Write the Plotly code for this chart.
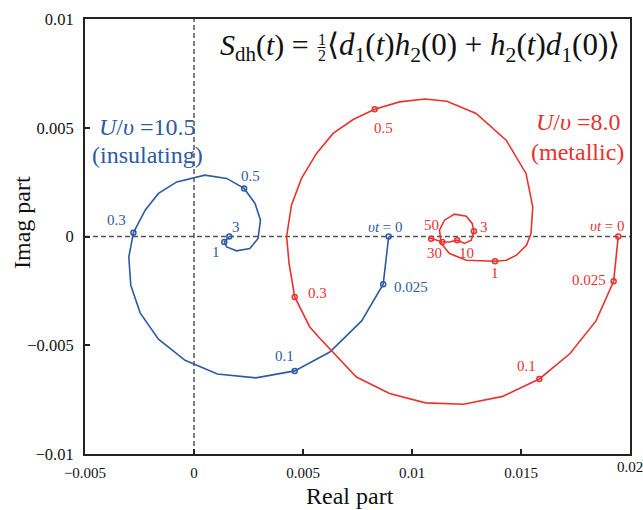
import plotly.graph_objects as go

FONT = "Liberation Serif, Times New Roman, serif"
BLUE = "#2d5ba3"
RED = "#e8322f"

# ---- U/v = 10.5 (insulating): trajectory of S_dh(t) in the complex plane
re_ins = [0.00893, 0.00868, 0.00769, 0.00623, 0.00462, 0.00284, 0.00107, -0.00041,
          -0.00163, -0.00247, -0.00290, -0.00299, -0.00278, -0.00224, -0.00163,
          -0.00079, 0.00050, 0.00150, 0.00230, 0.00280, 0.00305, 0.00294, 0.00256,
          0.00195, 0.00150, 0.00139, 0.00162]
im_ins = [0.00000, -0.00219, -0.00388, -0.00531, -0.00618, -0.00650, -0.00632, -0.00569,
          -0.00472, -0.00351, -0.00224, -0.00094, 0.00017, 0.00121, 0.00198,
          0.00251, 0.00282, 0.00267, 0.00221, 0.00152, 0.00075, -0.00009, -0.00055,
          -0.00066, -0.00048, -0.00025, 0.00000]
ins_mark_idx = [0, 1, 4, 12, 18, 25, 26]
ins_mark_time = ["0", "0.025", "0.1", "0.3", "0.5", "1", "3"]

# ---- U/v = 8.0 (metallic)
re_met = [0.01946, 0.01925, 0.01844, 0.01725, 0.01584, 0.01416, 0.01236, 0.01062,
          0.00897, 0.00745, 0.00577, 0.00531, 0.00462, 0.00436, 0.00425, 0.00447,
          0.00493, 0.00562, 0.00638, 0.00730, 0.00829, 0.00943, 0.01060, 0.01160,
          0.01294, 0.01432, 0.01523, 0.01554, 0.01546, 0.01525, 0.01479, 0.01433,
          0.01381, 0.01249, 0.01172, 0.01134, 0.01126, 0.01149, 0.01195, 0.01249,
          0.01276, 0.01284, 0.01272, 0.01241, 0.01207, 0.01172, 0.01139, 0.01088,
          0.01075]
im_met = [0.00000, -0.00206, -0.00388, -0.00538, -0.00655, -0.00735, -0.00771, -0.00765,
          -0.00722, -0.00646, -0.00468, -0.00416, -0.00278, -0.00124, 0.00000, 0.00144,
          0.00267, 0.00382, 0.00474, 0.00538, 0.00585, 0.00619, 0.00632, 0.00622,
          0.00566, 0.00443, 0.00290, 0.00136, 0.00014, -0.00040, -0.00086, -0.00109,
          -0.00114, -0.00109, -0.00078, -0.00032, 0.00029, 0.00075, 0.00103, 0.00093,
          0.00060, 0.00024, -0.00017, -0.00032, -0.00017, -0.00025, -0.00025, -0.00010,
          -0.00005]
met_mark_idx = [0, 1, 4, 12, 20, 32, 41, 44, 46, 47]
met_mark_time = ["0", "0.025", "0.1", "0.3", "0.5", "1", "3", "10", "30", "50"]

# ---- axes
x_range = [-0.005, 0.02]
y_range = [-0.01, 0.01]
x_ticks = [-0.005, 0, 0.005, 0.01, 0.015, 0.02]
x_tick_text = ["\u22120.005", "0", "0.005", "0.01", "0.015", "0.02"]
y_ticks = [-0.01, -0.005, 0, 0.005, 0.01]
y_tick_text = ["\u22120.01", "\u22120.005", "0", "0.005", "0.01"]

# label placement around each marker: (xshift, yshift, xanchor), in pixels
ins_label_pos = [(-3, 10, "center"), (9, -3, "left"), (-10, 15, "center"),
                 (-17, 13, "center"), (6, 12, "center"), (-8, -10, "center"),
                 (7, 10, "center")]
met_label_pos = [(-11, 11, "center"), (-6, 1, "right"), (-13, 13, "center"),
                 (11, 4, "left"), (9, -19, "center"), (0, -12, "center"),
                 (10, 4, "center"), (9, -13, "center"), (-8, -11, "center"),
                 (0, 14, "center")]

W, H = 643, 510
L, R, T, B = 85, 13, 19, 56
PW, PH = W - L - R, H - T - B


def px(xp):
    return (xp - L) / PW


def py(yp):
    return (H - B - yp) / PH


fig = go.Figure()

annotations = []
for re_v, im_v, idx, times, pos, col in [
    (re_ins, im_ins, ins_mark_idx, ins_mark_time, ins_label_pos, BLUE),
    (re_met, im_met, met_mark_idx, met_mark_time, met_label_pos, RED),
]:
    fig.add_trace(go.Scatter(x=re_v, y=im_v, mode="lines",
                             line=dict(color=col, width=1.6), hoverinfo="skip"))
    mx = [re_v[i] for i in idx]
    my = [im_v[i] for i in idx]
    fig.add_trace(go.Scatter(x=mx, y=my, mode="markers",
                             marker=dict(symbol="circle-open", size=5, color=col,
                                         line=dict(width=1.5, color=col))))
    for xv, yv, t, (dx, dy, xa) in zip(mx, my, times, pos):
        txt = "<i>\u03c5t</i> = 0" if t == "0" else t
        annotations.append(dict(x=xv, y=yv, xref="x", yref="y", text=txt,
                                showarrow=False, xshift=dx, yshift=dy, xanchor=xa,
                                yanchor="middle",
                                font=dict(family=FONT, size=15, color=col)))

# phase labels
for text, xp, yp, col in [
    ("<i>U</i>/<i>\u03c5</i> =10.5", 147, 127, BLUE),
    ("(insulating)", 147, 155, BLUE),
    ("<i>U</i>/<i>\u03c5</i> =8.0", 578, 122, RED),
    ("(metallic)", 577, 152, RED),
]:
    annotations.append(dict(x=px(xp), y=py(yp), xref="paper", yref="paper", text=text,
                            showarrow=False, xanchor="center", yanchor="middle",
                            font=dict(family=FONT, size=24, color=col)))

# formula in the upper part of the frame
annotations += [
    dict(x=px(311), y=py(47), xref="paper", yref="paper", xanchor="right",
         yanchor="middle", showarrow=False,
         text="<i>S</i><sub>dh</sub>(<i>t</i>) =",
         font=dict(family=FONT, size=30, color="#111")),
    dict(x=px(321.5), y=py(39), xref="paper", yref="paper", xanchor="center",
         yanchor="middle", showarrow=False, text="1",
         font=dict(family=FONT, size=16, color="#111")),
    dict(x=px(321.5), y=py(55), xref="paper", yref="paper", xanchor="center",
         yanchor="middle", showarrow=False, text="2",
         font=dict(family=FONT, size=16, color="#111")),
    dict(x=px(325), y=py(47), xref="paper", yref="paper", xanchor="left",
         yanchor="middle", showarrow=False,
         text="\u27e8<i>d</i><sub>1</sub>(<i>t</i>)<i>h</i><sub>2</sub>(0) + "
              "<i>h</i><sub>2</sub>(<i>t</i>)<i>d</i><sub>1</sub>(0)\u27e9",
         font=dict(family=FONT, size=31, color="#111")),
    # axis titles
    dict(x=px(350), y=py(496), xref="paper", yref="paper", xanchor="center",
         yanchor="middle", showarrow=False, text="Real part",
         font=dict(family=FONT, size=24, color="#111")),
    dict(x=px(22), y=py(223), xref="paper", yref="paper", xanchor="center",
         yanchor="middle", showarrow=False, text="Imag part", textangle=-90,
         font=dict(family=FONT, size=24, color="#111")),
    # last x tick label sits on the right frame edge and runs past the page
    dict(x=x_ticks[-1], y=py(467), xref="x", yref="paper", xanchor="center",
         yanchor="middle", showarrow=False, text=x_tick_text[-1],
         font=dict(family=FONT, size=15, color="#111")),
]

shapes = [
    dict(type="line", xref="x", yref="paper", x0=0, x1=0, y0=0, y1=1, layer="below",
         line=dict(color="#555", width=1.5, dash="5px,3px")),
    dict(type="line", xref="paper", yref="y", x0=0, x1=1, y0=0, y1=0, layer="below",
         line=dict(color="#555", width=1.5, dash="5px,3px")),
    dict(type="line", xref="paper", yref="paper", x0=px(317.5), x1=px(325.5),
         y0=py(47.5), y1=py(47.5), line=dict(color="#111", width=1)),
]

axis_common = dict(showgrid=False, zeroline=False, showline=True, linewidth=2,
                   linecolor="#222", mirror=True, ticks="inside", ticklen=5,
                   tickwidth=1.5, tickcolor="#222", automargin=False)

# a hair of padding so the end ticks at the frame edges are kept
eps = 1e-9
fig.update_layout(
    width=W, height=H,
    margin=dict(l=L, r=R, t=T, b=B, autoexpand=False),
    paper_bgcolor="white", plot_bgcolor="white",
    showlegend=False,
    xaxis=dict(range=[x_range[0] - eps, x_range[1] + eps], tickvals=x_ticks,
               ticktext=x_tick_text[:-1] + [""], ticklabelstandoff=4,
               tickfont=dict(family=FONT, size=15, color="#111"), **axis_common),
    yaxis=dict(range=[y_range[0] - eps, y_range[1] + eps], tickvals=y_ticks,
               ticktext=y_tick_text, ticklabelstandoff=6,
               tickfont=dict(family=FONT, size=16.5, color="#111"), **axis_common),
    annotations=annotations,
    shapes=shapes,
)

fig.write_html("out.html")
